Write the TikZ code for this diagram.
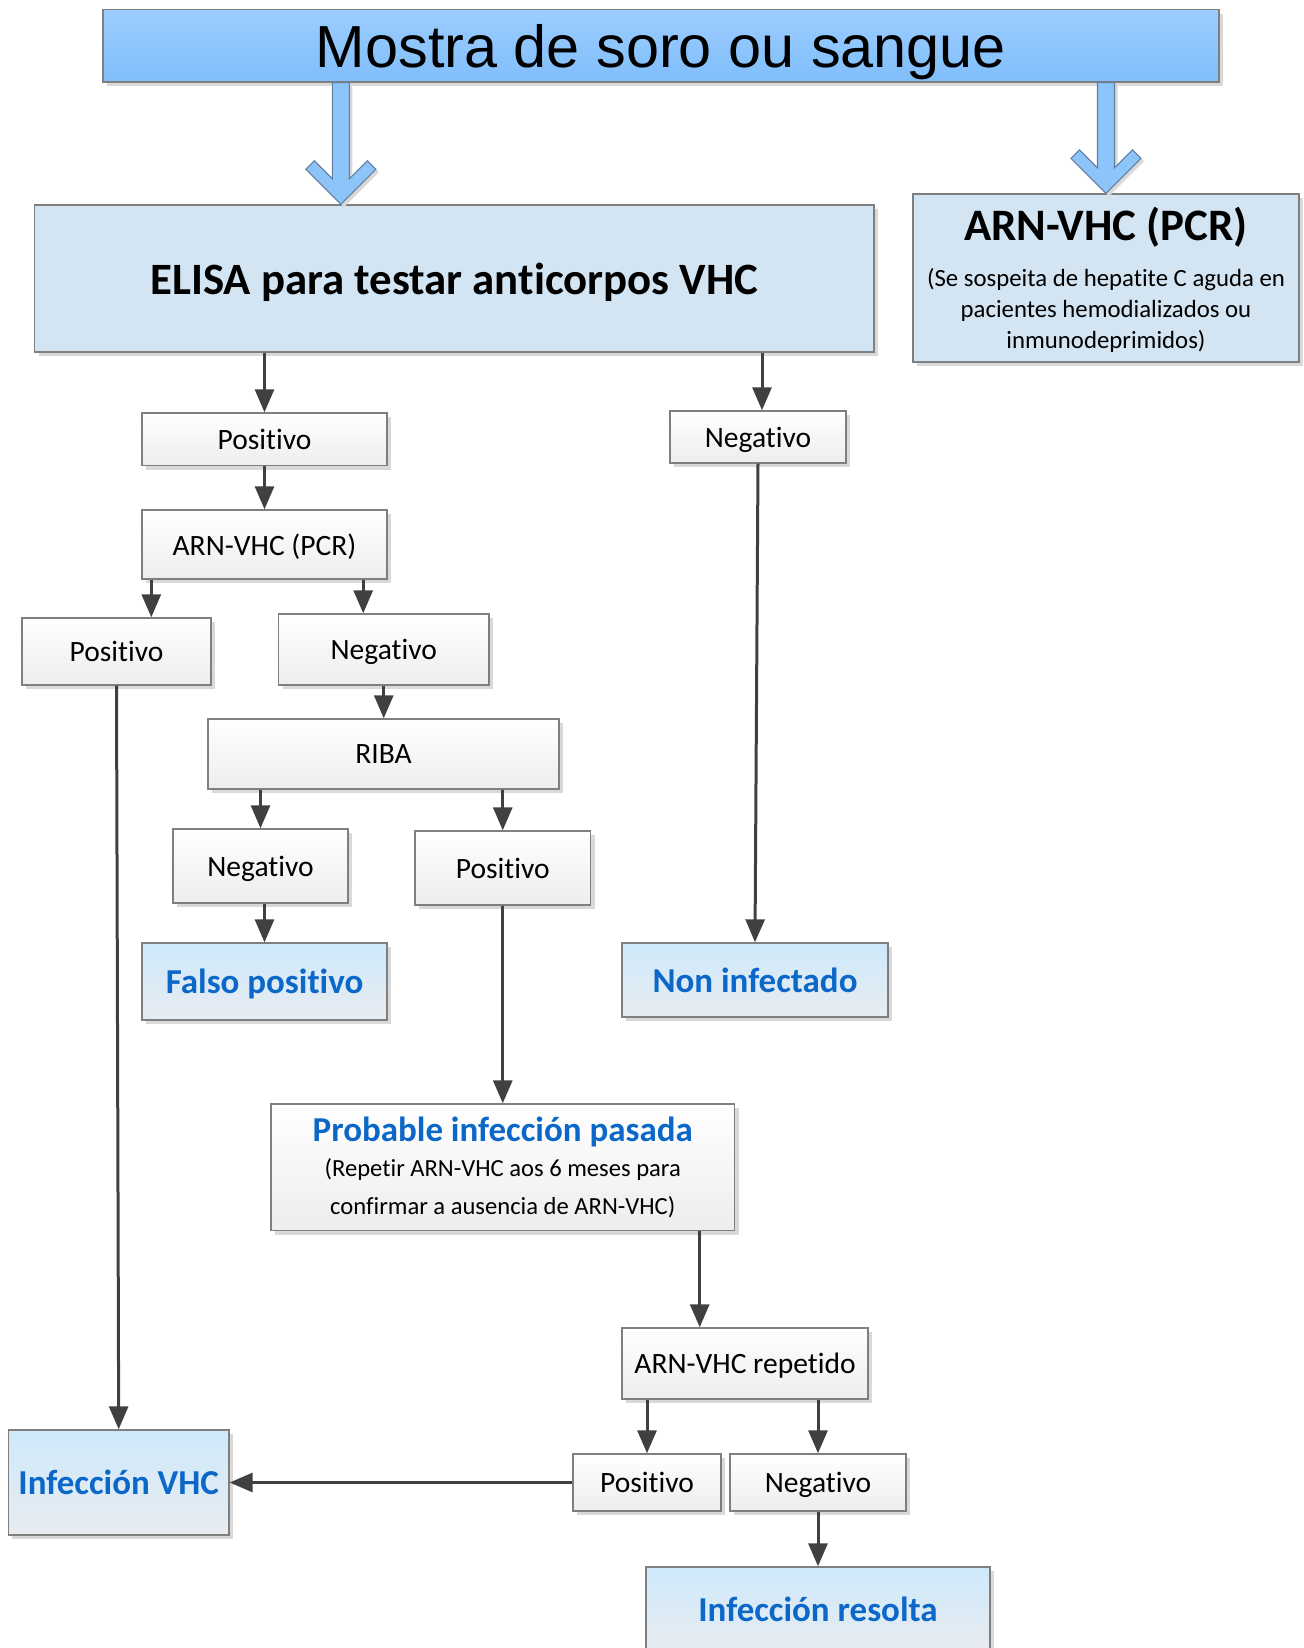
\documentclass[tikz,border=0pt]{standalone}
\usepackage{fontspec}
\setmainfont{Carlito}[Ligatures=NoCommon]
\newfontfamily\bannerfont{Liberation Sans}
\usetikzlibrary{arrows.meta,calc,shadows}
\definecolor{linegray}{HTML}{404040}
\definecolor{framegray}{HTML}{7F7F7F}
\definecolor{resultblue}{HTML}{0B67C8}
\definecolor{skytop}{HTML}{CEE9FB}
\definecolor{skybottom}{HTML}{E8ECF0}
\definecolor{testblue}{HTML}{D3E5F2}
\definecolor{bannertop}{HTML}{9CCDFF}
\definecolor{bannerbottom}{HTML}{80BEFB}
\definecolor{arrowfill}{HTML}{8DC4FA}
\definecolor{arrowframe}{HTML}{5F7F9F}
\tikzset{
    answer/.style = {
        draw=framegray,
        shape=rectangle,
        line width=0.8pt,
        inner sep=0pt,
        text depth=0pt,
        top color=white,
        bottom color=black!7,
        font=\fontsize{16.8}{20}\selectfont,
        drop shadow={shadow xshift=0.08cm, shadow yshift=-0.08cm, fill=black!15, opacity=1}
    },
    result/.style = {
        draw=framegray,
        shape=rectangle,
        line width=0.8pt,
        inner sep=0pt,
        text depth=0pt,
        top color=skytop,
        bottom color=skybottom,
        text=resultblue,
        font=\bfseries\fontsize{19.9}{24}\selectfont,
        drop shadow={shadow xshift=0.08cm, shadow yshift=-0.08cm, fill=black!15, opacity=1}
    },
    test/.style = {
        draw=framegray,
        shape=rectangle,
        line width=0.8pt,
        inner sep=0pt,
        text depth=0pt,
        fill=testblue,
        drop shadow={shadow xshift=0.08cm, shadow yshift=-0.08cm, fill=black!15, opacity=1}
    },
    banner/.style = {
        draw=framegray,
        shape=rectangle,
        line width=0.8pt,
        inner sep=0pt,
        text depth=0pt,
        top color=bannertop,
        bottom color=bannerbottom,
        minimum width=22.32cm,
        minimum height=1.45cm,
        font=\bannerfont\fontsize{33.8}{40}\selectfont,
        drop shadow={shadow xshift=0.08cm, shadow yshift=-0.08cm, fill=black!15, opacity=1}
    },
    feed/.style = {
        fill=arrowfill,
        draw=arrowframe,
        line width=0.6pt,
        drop shadow={shadow xshift=0.06cm, shadow yshift=-0.06cm, fill=black!15, opacity=1}
    },
    link/.style = {
        draw=linegray,
        line width=0.06cm
    },
    >={Triangle[length=0.46cm, width=0.38cm]},
}
% wide blue arrow: #1 = top end, #2 = tip
\newcommand{\feedarrow}[2]{%
    \filldraw[feed] (#2) -- ++(-0.7,0.7) -- ++(0.17,0.17) -- ++(0.36,-0.36)
        -- ($(#1)+(-0.17,0)$) -- ($(#1)+(0.17,0)$) -- ($(#2)+(0.17,0.51)$)
        -- ++(0.36,0.36) -- ++(0.17,-0.17) -- cycle;}

\begin{document}
\begin{tikzpicture}
            \useasboundingbox (0,0) rectangle (26.06,-32.96);

            \node[banner] (sample) at (13.22,-0.915) {Mostra de soro ou sangue};
            \node[test, minimum width=16.79cm, minimum height=2.94cm, font=\bfseries\fontsize{25.5}{30}\selectfont] (elisa) at (9.087,-5.57) {ELISA para testar anticorpos VHC};
            \node[test, align=center, minimum width=7.72cm, minimum height=3.36cm, font=\fontsize{14.1}{17.6}\selectfont] (pcr) at (22.12,-5.56) {{\bfseries\fontsize{25.6}{30}\selectfont ARN-VHC (PCR)}\\[8.6pt](Se sospeita de hepatite C aguda en\\pacientes hemodializados ou\\inmunodeprimidos)};

            \node[answer, minimum width=4.9cm, minimum height=1.05cm] (pos1) at (5.29,-8.785) {Positivo};
            \node[answer, minimum width=3.52cm, minimum height=1.04cm] (negelisa) at (15.16,-8.74) {Negativo};
            \node[answer, minimum width=4.9cm, minimum height=1.38cm] (pcrtest) at (5.29,-10.89) {ARN-VHC (PCR)};
            \node[answer, minimum width=3.78cm, minimum height=1.34cm] (pospcr) at (2.33,-13.03) {Positivo};
            \node[answer, minimum width=4.21cm, minimum height=1.42cm] (negpcr) at (7.675,-12.99) {Negativo};
            \node[answer, minimum width=7.02cm, minimum height=1.4cm] (riba) at (7.67,-15.08) {RIBA};
            \node[answer, minimum width=3.5cm, minimum height=1.48cm] (negriba) at (5.21,-17.32) {Negativo};
            \node[answer, minimum width=3.51cm, minimum height=1.48cm] (posriba) at (10.055,-17.36) {Positivo};
            \node[result, minimum width=4.9cm, minimum height=1.54cm] (falso) at (5.29,-19.63) {Falso positivo};
            \node[result, minimum width=5.32cm, minimum height=1.48cm] (noninf) at (15.1,-19.6) {Non infectado};
            \node[answer, text depth={}, align=center, minimum width=9.27cm, minimum height=2.53cm, font=\fontsize{14}{21.3}\selectfont] (pasada) at (10.055,-23.345) {\textcolor{resultblue}{\bfseries\fontsize{19.9}{24}\selectfont Probable infección pasada}\\[-1.2pt](Repetir ARN-VHC aos 6 meses para\\confirmar a ausencia de ARN-VHC)};
            \node[answer, minimum width=4.92cm, minimum height=1.42cm] (repeat) at (14.9,-27.27) {ARN-VHC repetido};
            \node[answer, minimum width=2.96cm, minimum height=1.14cm] (posrep) at (12.94,-29.65) {Positivo};
            \node[answer, minimum width=3.52cm, minimum height=1.14cm] (negrep) at (16.36,-29.65) {Negativo};
            \node[result, minimum width=4.41cm, minimum height=2.1cm] (vhc) at (2.374,-29.65) {Infección VHC};
            \node[result, minimum width=6.88cm, minimum height=1.68cm] (resolta) at (16.36,-32.18) {Infección resolta};

            % the two wide arrows from the sample
            \coordinate (elisatip) at ([xshift=6.14cm]elisa.north west);
            \coordinate (elisatop) at (sample.south -| elisatip);
            \coordinate (pcrtop) at (sample.south -| pcr.north);
            \feedarrow{elisatop}{elisatip}
            \feedarrow{pcrtop}{pcr.north}

            \path[draw, ->, link] (elisa.south -| pos1.north) -- (pos1.north);
            \path[draw, ->, link] ([xshift=0.08cm]elisa.south -| negelisa.north) -- ([xshift=0.08cm]negelisa.north);
            \path[draw, ->, link] (negelisa.south) -- (noninf.north);

            \path[draw, ->, link] (pos1.south) -- (pcrtest.north);
            \path[draw, ->, link] ([xshift=0.2cm]pcrtest.south west) -- ([xshift=0.2cm]pcrtest.south west |- pospcr.north);
            \path[draw, ->, link] ([xshift=-0.49cm]pcrtest.south east) -- ([xshift=-0.49cm]pcrtest.south east |- negpcr.north);
            \path[draw, ->, link] (pospcr.south) -- (vhc.north);

            \path[draw, ->, link] (negpcr.south) -- (negpcr.south |- riba.north);
            \path[draw, ->, link] (riba.south -| negriba.north) -- (negriba.north);
            \path[draw, ->, link] (riba.south -| posriba.north) -- (posriba.north);
            \path[draw, ->, link] (negriba.south -| falso.north) -- (falso.north);
            \path[draw, ->, link] (posriba.south) -- (posriba.south |- pasada.north);

            \path[draw, ->, link] ([xshift=-0.71cm]pasada.south east) -- ([xshift=-0.71cm]pasada.south east |- repeat.north);
            \path[draw, ->, link] (repeat.south -| posrep.north) -- (posrep.north);
            \path[draw, ->, link] (repeat.south -| negrep.north) -- (negrep.north);
            \path[draw, ->, link] (negrep.south) -- (resolta.north);
            \path[draw, ->, link] (posrep.west) -- (vhc.east);

\end{tikzpicture}
\end{document}
